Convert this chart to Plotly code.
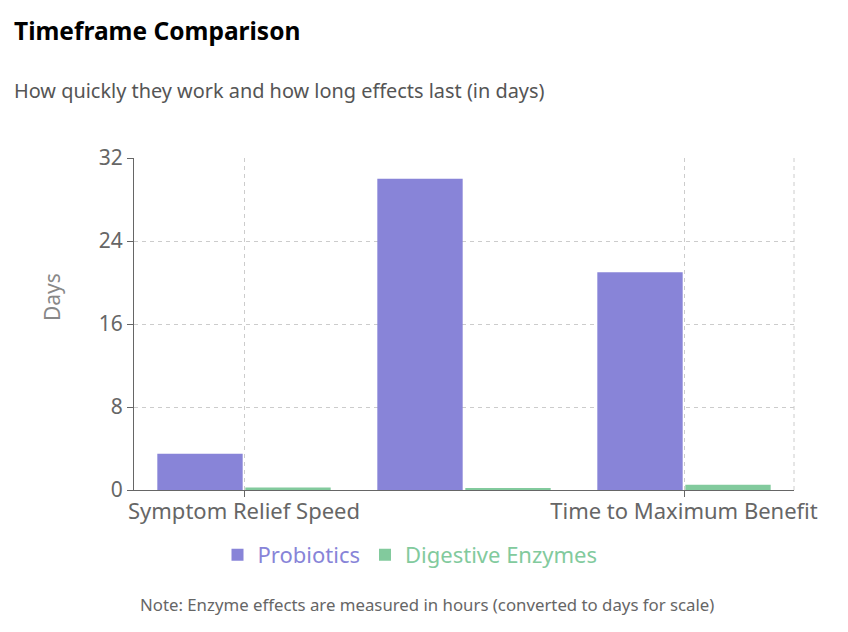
import plotly.graph_objects as go

categories = ["Symptom Relief Speed", "Duration of Effects", "Time to Maximum Benefit"]
probiotics = [3.5, 30, 21]
enzymes = [0.25, 0.1, 0.5]
tick_labels = ["Symptom Relief Speed", "Time to Maximum Benefit"]
y_ticks = [0, 8, 16, 24, 32]

FONT = "Noto Sans, Open Sans, sans-serif"
OFF = 8  # page body margin
W, H = 832, 616
# target pixel positions in the browser window
L, R, T, B = 134, 794, 158, 490
pw, ph = R - L, B - T

def px_x(x):
    return (x - L) / pw

def px_y(y):
    return (B - y) / ph

fig = go.Figure()
fig.add_trace(go.Bar(x=categories, y=probiotics, name="<span style='color:#8884d8'>Probiotics</span>",
                     marker=dict(color="#8884d8", line=dict(width=0))))
fig.add_trace(go.Bar(x=categories, y=enzymes, name="<span style='color:#82ca9d'>Digestive Enzymes</span>",
                     marker=dict(color="#82ca9d", line=dict(width=0))))

GRID_DASH = "4px,4px"

fig.update_layout(
    width=W, height=H,
    margin=dict(l=L - OFF, r=(W + OFF) - R, t=T - OFF, b=(H + OFF) - B, pad=0),
    paper_bgcolor="white", plot_bgcolor="white",
    font=dict(family=FONT, color="#666"),
    barmode="group", bargap=0.2, bargroupgap=0.03,
    showlegend=True,
    legend=dict(orientation="h", x=px_x(410), xanchor="center", y=px_y(555), yanchor="middle",
                font=dict(size=22), traceorder="normal", bgcolor="rgba(0,0,0,0)"),
    xaxis=dict(type="category", tickmode="array", tickvals=[categories[0], categories[2]],
               ticktext=tick_labels, showgrid=True, gridcolor="#ccc", griddash=GRID_DASH,
               showline=True, linecolor="#666", linewidth=1.2, ticks="outside", ticklen=6,
               tickcolor="#666", tickfont=dict(size=22, color="#666"), zeroline=False,
               ticklabelstandoff=-5),
    yaxis=dict(range=[0, 32], tickvals=y_ticks, showgrid=True, gridcolor="#ccc", griddash=GRID_DASH,
               showline=True, linecolor="#666", linewidth=1.2, ticks="outside", ticklen=6,
               tickcolor="#666", tickfont=dict(size=21, color="#666"), zeroline=False),
)

# right dashed border of the grid
fig.add_shape(type="line", xref="x domain", yref="y domain", x0=1, x1=1, y0=0, y1=1,
              line=dict(color="#ccc", width=1, dash=GRID_DASH), layer="below")

fig.add_annotation(text="<b>Timeframe Comparison</b>", xref="paper", yref="paper",
                   x=px_x(12), y=px_y(31), xanchor="left", yanchor="middle", showarrow=False,
                   font=dict(size=24.5, color="#000", family=FONT))
fig.add_annotation(text="How quickly they work and how long effects last (in days)", xref="paper",
                   yref="paper", x=px_x(12), y=px_y(91), xanchor="left", yanchor="middle",
                   showarrow=False, font=dict(size=19.9, color="#555", family=FONT))
fig.add_annotation(text="Days", xref="paper", yref="paper", x=px_x(52), y=px_y(297),
                   xanchor="center", yanchor="middle", textangle=-90, showarrow=False,
                   font=dict(size=21, color="#888", family=FONT))
fig.add_annotation(text="Note: Enzyme effects are measured in hours (converted to days for scale)",
                   xref="paper", yref="paper", x=px_x(427), y=px_y(604), xanchor="center",
                   yanchor="middle", showarrow=False, font=dict(size=16.8, color="#666", family=FONT))

fig.write_html("out.html")
